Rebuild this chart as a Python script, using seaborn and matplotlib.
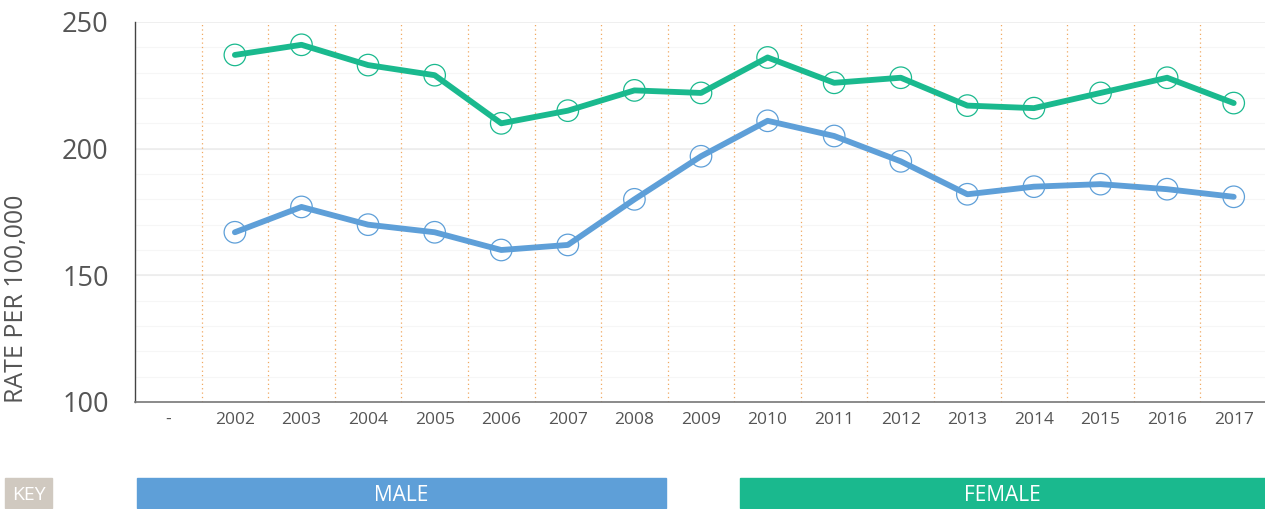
import matplotlib
matplotlib.use("Agg")
import matplotlib.pyplot as plt
import seaborn as sns
import pandas as pd
from matplotlib.patches import Rectangle

# categories on the x axis (first slot is an empty "-" column)
categories = ["-", "2002", "2003", "2004", "2005", "2006", "2007", "2008", "2009",
              "2010", "2011", "2012", "2013", "2014", "2015", "2016", "2017"]
years = categories[1:]
male = [167, 177, 170, 167, 160, 162, 180, 197, 211, 205, 195, 182, 185, 186, 184, 181]
female = [237, 241, 233, 229, 210, 215, 223, 222, 236, 226, 228, 217, 216, 222, 228, 218]

male_color = "#5e9fd8"
female_color = "#1ab98e"
text_color = "#555555"

sns.set_style("white")
plt.rcParams["font.family"] = ["Open Sans", "DejaVu Sans"]

pos = [categories.index(y) for y in years]
df = pd.DataFrame({
    "pos": pos * 2,
    "rate": male + female,
    "sex": ["MALE"] * len(years) + ["FEMALE"] * len(years),
})
palette = {"MALE": male_color, "FEMALE": female_color}

fig = plt.figure(figsize=(12.65, 5.09), dpi=100)
ax = fig.add_axes([135 / 1265, 1 - 402 / 509, 1132 / 1265, 380 / 509])

# faint minor grid every 10, slightly stronger at majors
for v in range(110, 250, 10):
    ax.axhline(v, color="#f6f6f6", lw=0.8, zorder=0)
for v in [150, 200, 250]:
    ax.axhline(v, color="#ececec", lw=1.2, zorder=0)

# dotted orange category separators
for b in range(len(categories) - 1):
    ax.axvline(b + 0.5, color="#f0a860", lw=0.9, ls=(0, (1, 2.5)), zorder=1)

sns.lineplot(data=df, x="pos", y="rate", hue="sex", palette=palette,
             lw=4.2, legend=False, ax=ax, zorder=3)
sns.scatterplot(data=df, x="pos", y="rate", hue="sex", palette=palette,
                s=240, facecolors="none", linewidth=0.9, legend=False,
                ax=ax, zorder=4)
# make scatter markers hollow with coloured edges
for coll in ax.collections:
    fc = coll.get_facecolors()
    coll.set_edgecolors(fc)
    coll.set_facecolors("none")

ax.set_xlim(-0.5, len(categories) - 0.5)
ax.set_ylim(100, 250)
ax.set_yticks([100, 150, 200, 250])
ax.set_yticklabels(["100", "150", "200", "250"], fontsize=19.5, color=text_color)

ax.set_xticks([b - 0.5 for b in range(len(categories) + 1)])
ax.set_xticklabels([])
ax.set_xticks(range(len(categories)), minor=True)
ax.set_xticklabels(categories, minor=True, fontsize=12.5, color=text_color)
ax.tick_params(axis="x", which="major", length=6, color="#cccccc", width=1.5)
ax.tick_params(axis="x", which="minor", length=0, pad=7)
ax.tick_params(axis="y", length=10, color="#cccccc", width=1.5, pad=9)

ax.set_xlabel("")
ax.set_ylabel("")
for s in ["top", "right"]:
    ax.spines[s].set_visible(False)
ax.spines["left"].set_color("#444444")
ax.spines["bottom"].set_color("#777777")
ax.spines["left"].set_linewidth(1)
ax.spines["bottom"].set_linewidth(1.2)

fig.text(17 / 1265, 1 - 403 / 509, "RATE PER 100,000", rotation=90,
         ha="center", va="bottom", fontsize=18, color=text_color)

# key bar at the bottom
def key_box(x0, x1, color, label, size):
    y0 = 1 - 508 / 509
    h = 30 / 509
    fig.patches.append(Rectangle((x0 / 1265, y0), (x1 - x0) / 1265, h,
                                 transform=fig.transFigure, color=color))
    fig.text((x0 + x1) / 2 / 1265, y0 + h / 2, label, ha="center",
             va="center_baseline", fontsize=size, color="white")

key_box(5, 52, "#d0c9c0", "KEY", 14)
key_box(137, 666, male_color, "MALE", 15)
key_box(740, 1265, female_color, "FEMALE", 15)

fig.savefig("out.png", dpi=100)
